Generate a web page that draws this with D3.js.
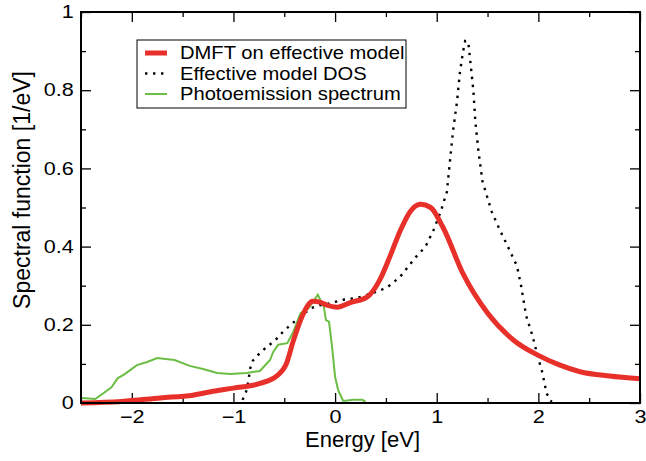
<!DOCTYPE html>
<html>
<head>
<meta charset="utf-8">
<script src="https://cdn.jsdelivr.net/npm/d3@7"></script>
<style>
  body { margin: 0; background: #fff; }
  text { font-family: "Liberation Sans", Arial, sans-serif; }
</style>
</head>
<body>
<script>
// DMFT on effective model: [energy eV, value 1/eV]
var dmft = [[-2.5,0.0],[-2.1,0.004],[-1.72,0.013],[-1.4,0.02],[-1.2,0.03],[-1.0,0.038],[-0.74,0.05],[-0.57,0.07],[-0.48,0.1],
  [-0.41,0.16],[-0.31,0.23],[-0.22,0.26],[-0.15,0.258],[-0.08,0.25],[0.02,0.245],[0.15,0.257],[0.31,0.27],
  [0.44,0.315],[0.54,0.375],[0.64,0.44],[0.74,0.49],[0.84,0.508],[0.94,0.50],[1.06,0.45],[1.26,0.33],
  [1.5,0.23],[1.76,0.16],[1.99,0.123],[2.2,0.098],[2.41,0.08],[2.7,0.069],[3.0,0.062]];

// Effective model DOS
var dos = [[-0.91,0.008],[-0.87,0.033],[-0.85,0.06],[-0.84,0.085],[-0.81,0.108],[-0.74,0.128],[-0.67,0.144],
  [-0.59,0.16],[-0.52,0.18],[-0.45,0.197],[-0.37,0.215],[-0.30,0.23],[-0.23,0.243],[-0.15,0.25],[-0.07,0.254],
  [0.08,0.264],[0.22,0.269],[0.38,0.282],[0.51,0.295],[0.64,0.323],[0.79,0.372],[0.89,0.40],[0.97,0.443],
  [1.04,0.49],[1.10,0.54],[1.13,0.618],[1.16,0.695],[1.20,0.772],[1.23,0.85],[1.26,0.90],[1.28,0.926],
  [1.31,0.924],[1.33,0.875],[1.36,0.80],[1.38,0.72],[1.41,0.645],[1.45,0.567],[1.54,0.49],[1.62,0.443],
  [1.70,0.40],[1.79,0.35],[1.83,0.30],[1.88,0.223],[1.94,0.174],[1.99,0.123],[2.04,0.077],[2.08,0.025],[2.13,0.003]];

// Photoemission spectrum
var pes = [[-2.49,0.013],[-2.36,0.01],[-2.28,0.025],[-2.20,0.04],[-2.14,0.063],[-2.07,0.074],[-1.95,0.097],
  [-1.85,0.105],[-1.75,0.115],[-1.58,0.11],[-1.43,0.095],[-1.30,0.087],[-1.16,0.077],[-1.03,0.074],
  [-0.87,0.077],[-0.74,0.082],[-0.64,0.11],[-0.61,0.13],[-0.56,0.149],[-0.47,0.153],[-0.41,0.183],
  [-0.34,0.23],[-0.26,0.243],[-0.17,0.277],[-0.11,0.245],[-0.09,0.212],[-0.06,0.208],[-0.03,0.144],
  [0.0,0.067],[0.03,0.033],[0.08,0.005],[0.18,0.008],[0.27,0.008],[0.30,0.003]];

var xTicks = [-2, -1, 0, 1, 2, 3];
var yTicks = [0, 0.2, 0.4, 0.6, 0.8, 1];
var legendLabels = ["DMFT on effective model", "Effective model DOS", "Photoemission spectrum"];

var main = function() {
  var margin = {top: 12, right: 6, bottom: 58, left: 81},
    width = 646 - margin.left - margin.right,
    height = 461 - margin.top - margin.bottom;

  var svg = d3.select("body").append("svg")
    .attr("width", 646).attr("height", 461)
    .append("g")
    .attr("transform", "translate(" + margin.left + "," + margin.top + ")");

  var x = d3.scaleLinear().domain([-2.5, 3]).range([0, width]);
  var y = d3.scaleLinear().domain([0, 1]).range([height, 0]);

  var xMinor = d3.range(-2.5, 3.01, 0.5).filter(function(d) { return Math.abs(d - Math.round(d)) > 0.01; });
  var yMinor = [0.1, 0.3, 0.5, 0.7, 0.9];

  // ticks on all four sides, pointing inward
  var bottom = svg.append("g").attr("transform", "translate(0," + height + ")")
    .call(d3.axisBottom(x).tickValues(xTicks).tickSizeInner(-10).tickSizeOuter(0).tickPadding(7).tickFormat(d3.format("d")));
  svg.append("g").attr("transform", "translate(0," + height + ")")
    .call(d3.axisBottom(x).tickValues(xMinor).tickSizeInner(-5).tickSizeOuter(0).tickFormat(""));
  svg.append("g")
    .call(d3.axisTop(x).tickValues(xTicks).tickSizeInner(-10).tickSizeOuter(0).tickFormat(""));
  svg.append("g")
    .call(d3.axisTop(x).tickValues(xMinor).tickSizeInner(-5).tickSizeOuter(0).tickFormat(""));

  var left = svg.append("g")
    .call(d3.axisLeft(y).tickValues(yTicks).tickSizeInner(-10).tickSizeOuter(0).tickPadding(6)
      .tickFormat(function(d) { return d === 0 || d === 1 ? d3.format("d")(d) : d3.format(".1f")(d); }));
  svg.append("g")
    .call(d3.axisLeft(y).tickValues(yMinor).tickSizeInner(-5).tickSizeOuter(0).tickFormat(""));
  svg.append("g").attr("transform", "translate(" + width + ",0)")
    .call(d3.axisRight(y).tickValues(yTicks).tickSizeInner(-10).tickSizeOuter(0).tickFormat(""));
  svg.append("g").attr("transform", "translate(" + width + ",0)")
    .call(d3.axisRight(y).tickValues(yMinor).tickSizeInner(-5).tickSizeOuter(0).tickFormat(""));

  svg.selectAll(".domain").remove();
  svg.selectAll(".tick line").attr("stroke", "#000").attr("stroke-width", 1.3);
  // tick labels in the reference are drawn wide
  bottom.selectAll("text").style("font-size", "18px").attr("fill", "#000")
    .attr("transform", "scale(1.2,1)");
  left.selectAll("text").style("font-size", "18px").attr("fill", "#000")
    .attr("transform", "scale(1.2,1)");

  var line = d3.line()
    .x(function(d) { return x(d[0]); })
    .y(function(d) { return y(d[1]); });

  svg.append("path").datum(dos)
    .attr("fill", "none").attr("stroke", "#000").attr("stroke-width", 2.4)
    .attr("stroke-dasharray", "2.4,5.6").attr("d", line);

  svg.append("path").datum(pes)
    .attr("fill", "none").attr("stroke", "#6cbd45").attr("stroke-width", 2).attr("d", line);

  svg.append("path").datum(dmft)
    .attr("fill", "none").attr("stroke", "#e8302a").attr("stroke-width", 5)
    .attr("stroke-linejoin", "round").attr("d", line.curve(d3.curveMonotoneX));

  // frame
  svg.append("rect").attr("width", width).attr("height", height)
    .attr("fill", "none").attr("stroke", "#000").attr("stroke-width", 2);

  // legend
  var lg = svg.append("g").attr("transform", "translate(" + (137 - margin.left) + "," + (40 - margin.top) + ")");
  lg.append("rect").attr("width", 269).attr("height", 68)
    .attr("fill", "#fff").attr("stroke", "#000").attr("stroke-width", 1);
  var styles = [
    {stroke: "#e8302a", w: 5, dash: null},
    {stroke: "#000", w: 2.4, dash: "2.4,5.6"},
    {stroke: "#6cbd45", w: 2, dash: null}
  ];
  legendLabels.forEach(function(label, i) {
    var yy = 13 + i * 20.5;
    lg.append("line").attr("x1", 8).attr("x2", 30).attr("y1", yy).attr("y2", yy)
      .attr("stroke", styles[i].stroke).attr("stroke-width", styles[i].w)
      .attr("stroke-dasharray", styles[i].dash);
    lg.append("text").attr("transform", "translate(43," + yy + ") scale(1.12,1)").attr("dy", "0.36em")
      .style("font-size", "18px").text(label);
  });

  // axis titles
  svg.append("text").attr("x", x(0.27)).attr("y", height + 44)
    .attr("text-anchor", "middle").style("font-size", "22px").text("Energy [eV]");
  svg.append("text").attr("transform", "translate(" + (30 - margin.left) + "," + (190 - margin.top) + ") rotate(-90)")
    .attr("text-anchor", "middle").style("font-size", "23px").text("Spectral function [1/eV]");
};

main();
</script>
</body>
</html>
